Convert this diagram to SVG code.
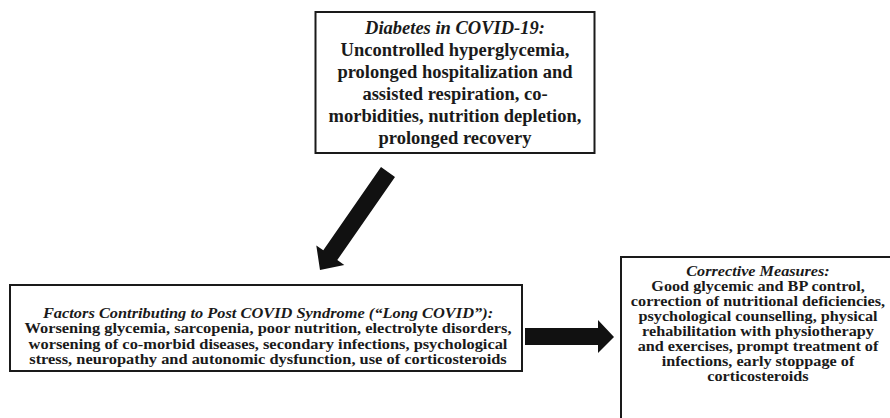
<svg xmlns="http://www.w3.org/2000/svg" width="890" height="418" viewBox="0 0 890 418">
<style>
.box{fill:#fff;stroke:#1a1a1a;stroke-width:2}
.t{font-family:"Liberation Serif","Times New Roman",serif;font-weight:bold;fill:#1a1a1a;text-anchor:middle}
.i{font-style:italic}
.big{font-size:18.5px}
.sm{font-size:15px}
.arr{fill:#111}
</style>
<rect width="890" height="418" fill="#fff"/>
<g id="diabetes">
<rect class="box" x="315.5" y="12" width="279" height="141"/>
<text class="t big i" x="455" y="34">Diabetes in COVID-19:</text>
<text class="t big" x="455" y="56">Uncontrolled hyperglycemia,</text>
<text class="t big" x="455" y="78">prolonged hospitalization and</text>
<text class="t big" x="455" y="100">assisted respiration, co-</text>
<text class="t big" x="455" y="122">morbidities, nutrition depletion,</text>
<text class="t big" x="455" y="144">prolonged recovery</text>
</g>
<g id="factors">
<rect class="box" x="10" y="285" width="512" height="86"/>
<g transform="translate(268,0) scale(1.093,1)">
<text class="t sm i" x="0" y="318">Factors Contributing to Post COVID Syndrome (“Long COVID”):</text>
<text class="t sm" x="0" y="333.3">Worsening glycemia, sarcopenia, poor nutrition, electrolyte disorders,</text>
<text class="t sm" x="0" y="348.6">worsening of co-morbid diseases, secondary infections, psychological</text>
<text class="t sm" x="0" y="363.9">stress, neuropathy and autonomic dysfunction, use of corticosteroids</text>
</g>
</g>
<g id="corrective">
<rect class="box" x="621" y="257" width="280" height="170"/>
<g transform="translate(758,0) scale(1.08,1)">
<text class="t sm i" x="0" y="276">Corrective Measures:</text>
<text class="t sm" x="0" y="291">Good glycemic and BP control,</text>
<text class="t sm" x="0" y="306">correction of nutritional deficiencies,</text>
<text class="t sm" x="0" y="321">psychological counselling, physical</text>
<text class="t sm" x="0" y="336">rehabilitation with physiotherapy</text>
<text class="t sm" x="0" y="351">and exercises, prompt treatment of</text>
<text class="t sm" x="0" y="366">infections, early stoppage of</text>
<text class="t sm" x="0" y="381">corticosteroids</text>
</g>
</g>
<g id="connectors">
<polygon class="arr" points="395,176.9 381,167.1 323.3,250.35 316.3,245.5 320,270 344.3,264.9 337.3,260.05"/>
<polygon class="arr" points="525,328 598,328 598,320 614,337 598,353 598,345 525,345"/>
</g>
</svg>
